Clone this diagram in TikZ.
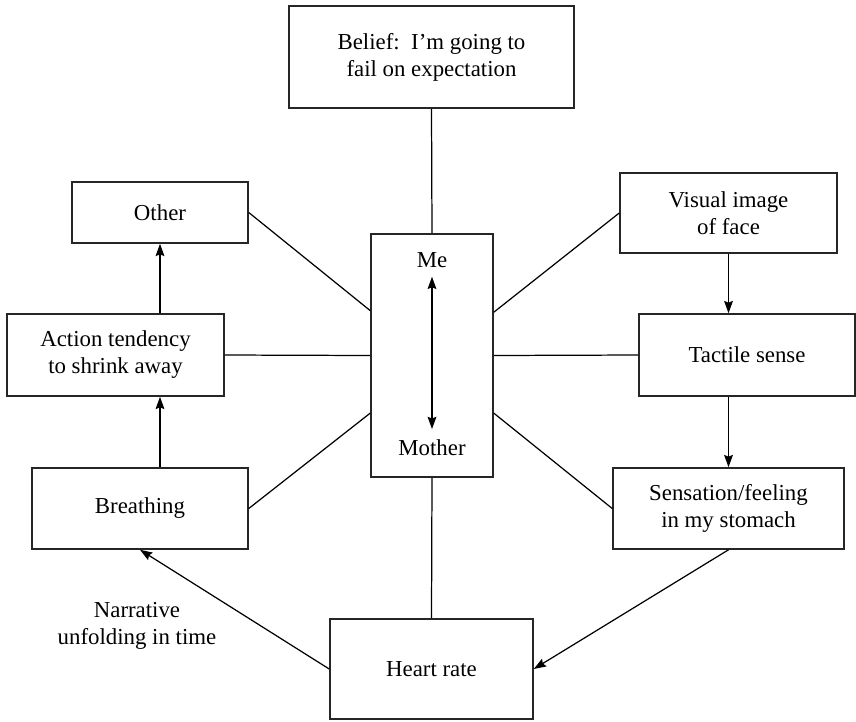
\documentclass[tikz,border=0pt]{standalone}
\usepackage{fontspec}
\setmainfont{Liberation Serif}
\usetikzlibrary{positioning, calc, arrows.meta}

\begin{document}
\begin{tikzpicture}[x=0.02cm, y=-0.02cm,
    >={Stealth[length=7pt, width=5pt, inset=1pt]},
    box/.style={draw=black!85, line width=0.9pt, align=center, inner sep=0pt,
      font=\fontsize{13}{15.4}\selectfont},
    label/.style={align=center, inner sep=1pt, font=\fontsize{13}{15.4}\selectfont},
    link/.style={line width=0.7pt},
    flow/.style={line width=0.7pt, ->}]
  \useasboundingbox (0,0) rectangle (856,721);

  % Belief on top
  \node[box, minimum width=5.7cm, minimum height=2.04cm] (belief) at (431.5,57) {Belief:\ \ I'm going to\\fail on expectation};

  % Me / Mother in the middle
  \node[box, minimum width=2.44cm, minimum height=4.86cm] (mm) at (432,355.5) {};
  \node[label] (me) at (432,260) {Me};
  \node[label] (mother) at (432,448) {Mother};
  \draw[line width=0.7pt, <->, shorten <=4pt, shorten >=5pt] (me.south) -- (mother.north);

  % Left column
  \node[box, minimum width=3.52cm, minimum height=1.22cm] (other) at (160,212.5) {Other};
  \node[box, minimum width=4.34cm, minimum height=1.64cm] (action) at (115.5,355) {Action tendency\\to shrink away};
  \node[box, minimum width=4.32cm, minimum height=1.62cm] (breathing) at (140,508.5) {Breathing};

  % Right column
  \node[box, minimum width=4.34cm, minimum height=1.6cm] (visual) at (728.5,213) {Visual image\\of face};
  \node[box, minimum width=4.32cm, minimum height=1.64cm] (tactile) at (747,355) {Tactile sense};
  \node[box, minimum width=4.62cm, minimum height=1.62cm] (sensation) at (728.5,508.5) {Sensation/feeling\\in my stomach};

  % Bottom
  \node[box, minimum width=4.06cm, minimum height=2.0cm] (heart) at (431.5,669) {Heart rate};
  \node[label] (narrative) at (137,626) {Narrative\\unfolding in time};

  % Links to the centre
  \draw[link] (belief.south) -- (mm.north);
  \draw[link] (mm.south) -- (heart.north);
  \draw[link] (other.east) -- (mm.144);
  \draw[link] (action.east) -- (mm.west);
  \draw[link] (breathing.east) -- (mm.223);
  \draw[link] (visual.west) -- (mm.35);
  \draw[link] (tactile.west) -- (mm.east);
  \draw[link] (sensation.west) -- (mm.-43);

  % Narrative arrows
  \draw[flow] (visual.south) -- (visual.south |- tactile.north);
  \draw[flow] (sensation.north |- tactile.south) -- (sensation.north);
  \draw[flow] (sensation.south) -- (heart.east);
  \draw[flow] (heart.west) -- (breathing.south);
  \draw[flow] (other.south |- breathing.north) -- (other.south |- action.south);
  \draw[flow] (other.south |- action.north) -- (other.south);
\end{tikzpicture}
\end{document}
